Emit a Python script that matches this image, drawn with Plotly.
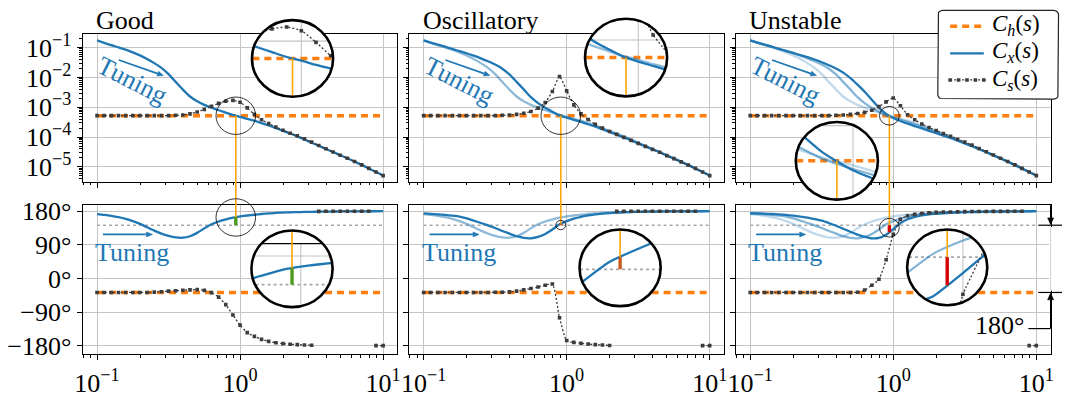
import numpy as np
import plotly.graph_objects as go

W, H = 1065, 398
FONT = "Liberation Serif, Times New Roman, DejaVu Serif, serif"
BLUE = "#1f77b4"
ORANGE = "#ff7f0e"
LINK = "#ffa500"
CS_GRAY = "#3c3c3c"
REF_GRAY = "#a8a8a8"
GRID = "#c4c4c4"

# ---------------------------------------------------------------- data
# frequency grid (log10 of rad/s), 20 samples per decade
log_freq = [round(-1 + 0.05 * k, 2) for k in range(41)]

ch_log10_mag = -3.284     # |C_h(s)| (constant), log10
ch_phase = -37.5          # arg C_h(s) (constant), degrees

good_cx_log10_mag = [-0.76, -0.84, -0.92, -0.99, -1.07, -1.16, -1.26, -1.38, -1.52, -1.68,
                     -1.89, -2.15, -2.41, -2.64, -2.80, -2.92, -3.01, -3.10, -3.18, -3.26,
                     -3.32, -3.39, -3.45, -3.53, -3.61, -3.70, -3.79, -3.88, -3.98, -4.08,
                     -4.19, -4.29, -4.40, -4.50, -4.61, -4.71, -4.82, -4.93, -5.05, -5.17, -5.29]
good_cs_log10_mag = [-3.28, -3.28, -3.28, -3.28, -3.28, -3.28, -3.28, -3.28, -3.28, -3.28,
                     -3.28, -3.27, -3.26, -3.22, -3.16, -3.07, -2.97, -2.87, -2.80, -2.77,
                     -2.83, -3.02, -3.24, -3.42, -3.55, -3.66, -3.77, -3.87, -3.96, -4.06,
                     -4.17, -4.28, -4.39, -4.50, -4.61, -4.71, -4.82, -4.93, -5.05, -5.17, -5.29]
good_cx_phase = [172, 170, 167.5, 164, 159.5, 153.5, 146, 137, 128, 120,
                 114, 110, 109, 113, 122, 134, 145, 152.5, 158, 163,
                 166, 168.5, 170.5, 172.5, 174, 175.5, 176.2, 177, 177.5, 178,
                 178.3, 178.6, 178.9, 179.1, 179.3, 179.5, 179.6, 179.7, 179.8, 179.9, 179.95]
good_cs_phase = [-37.5, -37.5, -37.5, -37.5, -37.5, -37.5, -37.5, -37.5, -36.5, -35.5,
                 -34, -33, -31.5, -30.5, -30, -32, -38, -50, -70, -98,
                 -125, -145, -155, -163, -168.5, -172, -174.5, -176, -177.2, -178,
                 -178.8, 179.6, 179.7, 179.7, 179.8, 179.8, 179.8, 179.9, 179.9, -179.9, -179.9]

osc_cx_log10_mag = [-0.76, -0.83, -0.90, -0.97, -1.04, -1.12, -1.19, -1.27, -1.36, -1.46,
                    -1.57, -1.71, -1.90, -2.15, -2.40, -2.66, -2.86, -3.02, -3.15, -3.27,
                    -3.35, -3.42, -3.49, -3.57, -3.65, -3.74, -3.83, -3.92, -4.01, -4.11,
                    -4.21, -4.31, -4.41, -4.51, -4.62, -4.72, -4.83, -4.94, -5.05, -5.17, -5.29]
osc_cs_log10_mag = [-3.28, -3.28, -3.28, -3.28, -3.28, -3.28, -3.28, -3.28, -3.28, -3.28,
                    -3.28, -3.27, -3.26, -3.24, -3.20, -3.14, -3.03, -2.84, -2.47, -1.97,
                    -2.45, -2.92, -3.22, -3.41, -3.57, -3.70, -3.81, -3.91, -4.01, -4.11,
                    -4.21, -4.31, -4.41, -4.51, -4.62, -4.72, -4.83, -4.94, -5.05, -5.17, -5.29]
osc_cx_phase = [174, 173, 171.5, 170, 168, 165.5, 161, 155, 148.5, 142,
                135, 127, 120, 113, 108.5, 107.5, 111, 119, 131, 145,
                153.5, 160, 165, 168.5, 171.5, 173.5, 175, 176, 177, 177.7,
                178.2, 178.6, 179, 179.2, 179.4, 179.5, 179.6, 179.7, 179.8, 179.9, 179.95]
osc_cs_phase = [-37.5, -37.5, -37.5, -37.5, -37.5, -37.5, -37.5, -37.5, -37.5, -37.5,
                -37, -37, -36, -34, -30.5, -27, -23, -18, -15, -105,
                -166, -171, -173.5, -175.5, -177, -178.2, -179.3, 179.6, 179.7, 179.7,
                179.7, 179.8, 179.8, 179.8, 179.8, 179.9, 179.9, 179.9, 179.9, -179.9, -179.9]

unst_cx_log10_mag = [-0.76, -0.83, -0.90, -0.97, -1.04, -1.11, -1.18, -1.25, -1.32, -1.40,
                     -1.49, -1.59, -1.70, -1.84, -2.02, -2.24, -2.48, -2.75, -3.02, -3.22,
                     -3.36, -3.46, -3.55, -3.63, -3.71, -3.79, -3.87, -3.95, -4.03, -4.12,
                     -4.21, -4.30, -4.40, -4.50, -4.61, -4.71, -4.82, -4.93, -5.05, -5.17, -5.29]
unst_cs_log10_mag = [-3.28, -3.28, -3.28, -3.28, -3.28, -3.28, -3.28, -3.28, -3.28, -3.28,
                     -3.28, -3.28, -3.27, -3.26, -3.24, -3.21, -3.17, -3.10, -2.98, -2.82,
                     -2.69, -2.95, -3.25, -3.42, -3.56, -3.68, -3.78, -3.88, -3.97, -4.07,
                     -4.17, -4.27, -4.38, -4.49, -4.60, -4.71, -4.82, -4.93, -5.05, -5.17, -5.29]
unst_cx_phase = [174.5, 174, 173.5, 172.5, 171.5, 170, 168, 165.5, 162.5, 159,
                 155, 148.5, 141, 133, 125, 117.5, 111.5, 107.5, 108.5, 117,
                 132, 148, 158.5, 165, 169, 171.5, 173, 174.5, 175.5, 176.3,
                 177, 177.6, 178, 178.4, 178.8, 179.1, 179.3, 179.5, 179.7, 179.85, 179.95]
unst_cs_phase = [-37.5, -37.5, -37.5, -37.5, -37.5, -37.5, -37.5, -37.5, -37.5, -37.5,
                 -37.5, -37.5, -37.5, -37.5, -37.5, -37, -31, -18, -2, 50,
                 118, 158, 168, 171.5, 173.8, 175.5, 176.8, 177.5, 178, 178.4,
                 178.8, 179, 179.2, 179.3, 179.4, 179.5, 179.6, 179.7, 179.8, -179.9, -179.9]

titles = ["Good", "Oscillatory", "Unstable"]
margin_colors = ["#4d9a1f", "#c9581c", "#d40000"]
x_tick_vals = [0.1, 1, 10]
x_tick_text = ["10<sup>−1</sup>", "10<sup>0</sup>", "10<sup>1</sup>"]
mag_tick_exp = [-5, -4, -3, -2, -1]
mag_tick_text = ["10<sup>−5</sup>", "10<sup>−4</sup>", "10<sup>−3</sup>", "10<sup>−2</sup>", "10<sup>−1</sup>"]
ph_tick_vals = [-180, -90, 0, 90, 180]
ph_tick_text = ["−180°", "−90°", "0°", "90°", "180°"]
legend_labels = ["<i>C</i><sub><i>h</i></sub>(<i>s</i>)",
                 "<i>C</i><sub><i>x</i></sub>(<i>s</i>)",
                 "<i>C</i><sub><i>s</i></sub>(<i>s</i>)"]

# ---------------------------------------------------------------- layout constants
PANEL_X = [(75.5, 393.5), (405.5, 723.5), (735.5, 1053.5)]
ROW_MAG = (28.0, 186.0)
ROW_PH = (211.0, 370.5)
XR = [-1.1, 1.1]
YR_MAG = [-5.50, -0.55]
YR_PH = [-203.0, 196.0]
PXU = (PANEL_X[0][1] - PANEL_X[0][0]) / (XR[1] - XR[0])
PXV_MAG = (ROW_MAG[1] - ROW_MAG[0]) / (YR_MAG[1] - YR_MAG[0])
PXV_PH = (ROW_PH[1] - ROW_PH[0]) / (YR_PH[1] - YR_PH[0])

# inset: (panel, is_mag, centre value (None -> C_h level), small radius, big cx, big cy, big R)
INSETS = [
    (0, True, None, 20, 287.5, 54.0, 41.0),
    (1, True, None, 20, 624.5, 53.0, 41.5),
    (2, True, None, 10, 837.5, 163.5, 41.5),
    (0, False, 163.25, 20, 287.0, 279.0, 41.0),
    (1, False, 143.0, 5, 618.5, 278.0, 41.0),
    (2, False, 135.75, 10, 949.0, 277.5, 40.5),
]


def ref(n, xy):
    return xy if n == 1 else f"{xy}{n}"


def akey(n, xy):
    return f"{xy}axis" if n == 1 else f"{xy}axis{n}"


def px_of_u(p, u):
    return PANEL_X[p][0] + (u - XR[0]) * PXU


def py_of_v(is_mag, v):
    if is_mag:
        return ROW_MAG[1] - (v - YR_MAG[0]) * PXV_MAG
    return ROW_PH[1] - (v - YR_PH[0]) * PXV_PH


fig = go.Figure()
shapes, annotations = [], []
layout = dict(width=W, height=H, margin=dict(l=0, r=0, t=0, b=0, pad=0),
              paper_bgcolor="white", plot_bgcolor="rgba(0,0,0,0)", showlegend=False,
              font=dict(family=FONT, size=26, color="black"))


def add_xy(n, x, y, **kw):
    fig.add_trace(go.Scatter(x=x, y=y, xaxis=ref(n, "x"), yaxis=ref(n, "y"),
                             hoverinfo="skip", showlegend=False, **kw))


def to_xy(u, v, is_mag):
    x = [None if a is None else 10.0 ** a for a in u]
    y = [None if b is None else (10.0 ** b if is_mag else b) for b in v]
    return x, y


def split_wraps(u, v):
    us, vs = [u[0]], [v[0]]
    for i in range(1, len(v)):
        if abs(v[i] - v[i - 1]) > 180:
            us.append(None)
            vs.append(None)
        us.append(u[i])
        vs.append(v[i])
    return us, vs


def clip_circle(a, b, rad=0.99):
    oa, ob = [], []
    open_ = False
    for i in range(len(a) - 1):
        a0, b0, a1, b1 = a[i], b[i], a[i + 1], b[i + 1]
        if a0 is None or b0 is None or a1 is None or b1 is None:
            open_ = False
            continue
        da, db = a1 - a0, b1 - b0
        A = da * da + db * db
        if A == 0:
            continue
        B = 2 * (a0 * da + b0 * db)
        C = a0 * a0 + b0 * b0 - rad * rad
        disc = B * B - 4 * A * C
        if disc <= 0:
            open_ = False
            continue
        s = disc ** 0.5
        lo = max((-B - s) / (2 * A), 0.0)
        hi = min((-B + s) / (2 * A), 1.0)
        if lo >= hi:
            open_ = False
            continue
        if not (open_ and lo == 0.0):
            if oa:
                oa.append(None)
                ob.append(None)
            oa.append(a0 + lo * da)
            ob.append(b0 + lo * db)
        oa.append(a0 + hi * da)
        ob.append(b0 + hi * db)
        open_ = hi == 1.0
    return oa, ob


CURVE = dict(shape="spline", smoothing=0.6)
MARK = dict(symbol="square", size=3.6, color=CS_GRAY, line=dict(width=0))
ST_CH = dict(color=ORANGE, width=3.6, dash="7px,5px")
ST_CS = dict(color=CS_GRAY, width=1.3, dash="2px,2px", **CURVE)
ST_LINK = dict(color=LINK, width=1.6)


def st_cx(alpha):
    return dict(color=f"rgba(31,119,180,{alpha})", width=2.3, **CURVE)


panels = [
    dict(cx_mag=good_cx_log10_mag, cs_mag=good_cs_log10_mag, cx_ph=good_cx_phase,
         cs_ph=good_cs_phase, prev=[]),
    dict(cx_mag=osc_cx_log10_mag, cs_mag=osc_cs_log10_mag, cx_ph=osc_cx_phase,
         cs_ph=osc_cs_phase, prev=[(good_cx_log10_mag, good_cx_phase, 0.5)]),
    dict(cx_mag=unst_cx_log10_mag, cs_mag=unst_cs_log10_mag, cx_ph=unst_cx_phase,
         cs_ph=unst_cs_phase, prev=[(good_cx_log10_mag, good_cx_phase, 0.28),
                                    (osc_cx_log10_mag, osc_cx_phase, 0.55)]),
]

ref_phase = ch_phase + 180.0
ch_mag_list = [ch_log10_mag] * len(log_freq)
ch_ph_list = [ch_phase] * len(log_freq)


def arrow(x0, y0, x1, y1, color, width, head=6.0, half=2.6):
    """Straight arrow (pixel coords) drawn as a line plus a filled head."""
    vx, vy = x1 - x0, y1 - y0
    L = (vx * vx + vy * vy) ** 0.5
    ux, uy = vx / L, vy / L
    bx, by = x1 - ux * head, y1 - uy * head
    shapes.append(dict(type="line", xref="paper", yref="paper", x0=x0 / W, x1=bx / W,
                       y0=1 - y0 / H, y1=1 - by / H, line=dict(color=color, width=width),
                       layer="above"))
    pts = [(x1, y1), (bx - uy * half, by + ux * half), (bx + uy * half, by - ux * half)]
    path = "M " + " L ".join(f"{px / W:.6f},{1 - py / H:.6f}" for px, py in pts) + " Z"
    shapes.append(dict(type="path", xref="paper", yref="paper", path=path, fillcolor=color,
                       line=dict(color=color, width=0.6), layer="above"))


for p, P in enumerate(panels):
    d = np.array(P["cx_mag"]) - ch_log10_mag
    i = int(np.where((d[:-1] > 0) & (d[1:] <= 0))[0][0])
    t = d[i] / (d[i] - d[i + 1])
    lwc = log_freq[i] + t * (log_freq[i + 1] - log_freq[i])
    ph_wc = float(np.interp(lwc, log_freq, P["cx_ph"]))
    P["lwc"], P["ph_wc"] = lwc, ph_wc

    mag_items = [dict(u=log_freq, v=ch_mag_list, line=ST_CH)]
    for (pm, pp, al) in P["prev"]:
        mag_items.append(dict(u=log_freq, v=pm, line=st_cx(al)))
    mag_items.append(dict(u=log_freq, v=P["cx_mag"], line=st_cx(1)))
    mag_items.append(dict(u=log_freq, v=P["cs_mag"], line=ST_CS, markers=True))
    mag_items.append(dict(u=[lwc, lwc], v=[ch_log10_mag, YR_MAG[0] - 3], line=ST_LINK))

    ph_items = [dict(u=[-1, 1], v=[ref_phase, ref_phase], line=dict(color=REF_GRAY, width=1.6, dash="dot"))]
    ph_items.append(dict(u=log_freq, v=ch_ph_list, line=ST_CH))
    for (pm, pp, al) in P["prev"]:
        ph_items.append(dict(u=log_freq, v=pp, line=st_cx(al), wrap=True))
    ph_items.append(dict(u=log_freq, v=P["cx_ph"], line=st_cx(1), wrap=True))
    ph_items.append(dict(u=log_freq, v=P["cs_ph"], line=ST_CS, markers=True, wrap=True))
    ph_items.append(dict(u=[lwc, lwc], v=[YR_PH[1] + 200, ph_wc], line=ST_LINK))
    ph_items.append(dict(u=[lwc, lwc], v=[ph_wc, ref_phase], line=dict(color=margin_colors[p], width=3.4)))
    P["mag_items"], P["ph_items"] = mag_items, ph_items

    # ---- axes
    common = dict(showline=True, mirror=True, linecolor="black", linewidth=1.2, ticks="outside",
                  ticklen=5, tickwidth=1.1, tickcolor="black", showgrid=True, gridcolor=GRID,
                  gridwidth=1.1, zeroline=False, fixedrange=True,
                  tickfont=dict(family=FONT, size=26, color="black"))
    x_minor = [m * 10.0 ** e for e in (-2, -1, 0, 1) for m in range(2, 10)
               if XR[0] <= np.log10(m * 10.0 ** e) <= XR[1]]
    y_minor = [m * 10.0 ** e for e in range(-7, 0) for m in range(2, 10)
               if YR_MAG[0] <= np.log10(m * 10.0 ** e) <= YR_MAG[1]]
    nt, nb = p + 1, p + 4
    xd = [PANEL_X[p][0] / W, PANEL_X[p][1] / W]
    for n, row in ((nt, ROW_MAG), (nb, ROW_PH)):
        layout[akey(n, "x")] = dict(domain=xd, type="log", range=XR, anchor=ref(n, "y"),
                                    tickmode="array", tickvals=x_tick_vals, ticktext=x_tick_text,
                                    showticklabels=(n == nb),
                                    minor=dict(tickvals=x_minor, ticks="outside", ticklen=2.5,
                                               tickwidth=0.9, tickcolor="black", showgrid=False),
                                    **common)
    layout[akey(nt, "y")] = dict(domain=[1 - ROW_MAG[1] / H, 1 - ROW_MAG[0] / H], type="log",
                                 range=YR_MAG, anchor=ref(nt, "x"), tickmode="array",
                                 tickvals=[10.0 ** e for e in mag_tick_exp], ticktext=mag_tick_text,
                                 showticklabels=(p == 0),
                                 minor=dict(tickvals=y_minor, ticks="outside", ticklen=2.5,
                                            tickwidth=0.9, tickcolor="black", showgrid=False),
                                 **common)
    layout[akey(nb, "y")] = dict(domain=[1 - ROW_PH[1] / H, 1 - ROW_PH[0] / H], type="linear",
                                 range=YR_PH, anchor=ref(nb, "x"), tickmode="array",
                                 tickvals=ph_tick_vals, ticktext=ph_tick_text,
                                 showticklabels=(p == 0), **common)

    # ---- main traces
    for n, items, is_mag in ((nt, mag_items, True), (nb, ph_items, False)):
        for it in items:
            u, v = it["u"], it["v"]
            if it.get("wrap"):
                u, v = split_wraps(u, v)
            x, y = to_xy(u, v, is_mag)
            if it.get("markers"):
                add_xy(n, x, y, mode="lines+markers", line=it["line"], marker=MARK)
            else:
                add_xy(n, x, y, mode="lines", line=it["line"])

    # link through the gap between rows
    xl = px_of_u(p, lwc) / W
    shapes.append(dict(type="line", xref="paper", yref="paper", x0=xl, x1=xl,
                       y0=1 - ROW_MAG[1] / H, y1=1 - ROW_PH[0] / H, line=ST_LINK, layer="above"))

    # titles & Tuning labels
    x01 = px_of_u(p, -1)
    dx = x01 - 90
    annotations.append(dict(text=titles[p], x=(x01 - 3) / W, y=1 - 13.5 / H, xref="paper",
                            yref="paper", xanchor="left", yanchor="middle", showarrow=False,
                            font=dict(family=FONT, size=26, color="black")))
    annotations.append(dict(text="Tuning", x=(125.5 + dx) / W, y=1 - 78 / H, xref="paper",
                            yref="paper", xanchor="center", yanchor="middle", textangle=27,
                            showarrow=False, font=dict(family=FONT, size=26, color=BLUE)))
    arrow(112 + dx, 55.7, 157 + dx, 72.3, BLUE, 1.7)
    annotations.append(dict(text="Tuning", x=(125.5 + dx) / W, y=1 - 261.5 / H, xref="paper",
                            yref="paper", xanchor="center", yanchor="middle", showarrow=False,
                            font=dict(family=FONT, size=26, color=BLUE)))
    arrow(96 + dx, 242.3, 146 + dx, 242.3, BLUE, 1.7)

# ---------------------------------------------------------------- insets
for k, (p, is_mag, vcen, r, Xc, Yc, R) in enumerate(INSETS):
    n = 7 + k
    P = panels[p]
    uc = P["lwc"]
    vc = ch_log10_mag if is_mag else vcen
    du = r / PXU
    dv = r / (PXV_MAG if is_mag else PXV_PH)
    layout[akey(n, "x")] = dict(domain=[(Xc - R) / W, (Xc + R) / W], type="log",
                                range=[uc - du, uc + du], anchor=ref(n, "y"), visible=False,
                                fixedrange=True)
    layout[akey(n, "y")] = dict(domain=[1 - (Yc + R) / H, 1 - (Yc - R) / H],
                                type="log" if is_mag else "linear", range=[vc - dv, vc + dv],
                                anchor=ref(n, "x"), visible=False, fixedrange=True)
    # white disk
    tt = np.linspace(0, 2 * np.pi, 181)
    dx_, dy_ = to_xy(list(uc + du * np.cos(tt)), list(vc + dv * np.sin(tt)), is_mag)
    add_xy(n, dx_, dy_, mode="lines", fill="toself", fillcolor="white", line=dict(width=0))

    def clipped(u, v):
        a = [None if q is None else (q - uc) / du for q in u]
        b = [None if q is None else (q - vc) / dv for q in v]
        ca, cb = clip_circle(a, b)
        uu = [None if q is None else uc + q * du for q in ca]
        vv = [None if q is None else vc + q * dv for q in cb]
        return to_xy(uu, vv, is_mag)

    yr = YR_MAG if is_mag else YR_PH
    yt = mag_tick_exp if is_mag else ph_tick_vals
    gu, gv = [], []
    for g in (-1, 0, 1):
        gu += [g, g, None]
        gv += [yr[0], yr[1], None]
    for g in yt:
        gu += [XR[0], XR[1], None]
        gv += [g, g, None]
    x, y = clipped(gu, gv)
    if x:
        add_xy(n, x, y, mode="lines", line=dict(color=GRID, width=1.1))
    su = [XR[0], XR[1], None, XR[0], XR[1], None, XR[0], XR[0], None, XR[1], XR[1]]
    sv = [yr[0], yr[0], None, yr[1], yr[1], None, yr[0], yr[1], None, yr[0], yr[1]]
    x, y = clipped(su, sv)
    if x:
        add_xy(n, x, y, mode="lines", line=dict(color="black", width=1.2))

    items = P["mag_items"] if is_mag else P["ph_items"]
    for it in items:
        u, v = it["u"], it["v"]
        if it.get("wrap"):
            u, v = split_wraps(u, v)
        x, y = clipped(u, v)
        if x:
            add_xy(n, x, y, mode="lines", line=it["line"])
        if it.get("markers"):
            mu = [q for q, w in zip(u, v) if q is not None and
                  ((q - uc) / du) ** 2 + ((w - vc) / dv) ** 2 < 0.96]
            mv = [w for q, w in zip(u, v) if q is not None and
                  ((q - uc) / du) ** 2 + ((w - vc) / dv) ** 2 < 0.96]
            if mu:
                mx, my = to_xy(mu, mv, is_mag)
                add_xy(n, mx, my, mode="markers", marker=MARK)

    # outlines: small circle in the main panel, big circle round the inset
    cx = px_of_u(p, uc)
    cy = py_of_v(is_mag, vc)
    shapes.append(dict(type="circle", xref="paper", yref="paper", x0=(cx - r) / W, x1=(cx + r) / W,
                       y0=1 - (cy + r) / H, y1=1 - (cy - r) / H,
                       line=dict(color="black", width=0.8), layer="above"))
    shapes.append(dict(type="circle", xref="paper", yref="paper", x0=(Xc - R) / W, x1=(Xc + R) / W,
                       y0=1 - (Yc + R) / H, y1=1 - (Yc - R) / H,
                       line=dict(color="black", width=2.6), layer="above"))

# ---------------------------------------------------------------- 180° dimension
y_ref = py_of_v(False, ref_phase)
y_ch = py_of_v(False, ch_phase)
X_SP = PANEL_X[2][1]


def pl(x0, y0, x1, y1, color="black", width=1.2):
    shapes.append(dict(type="line", xref="paper", yref="paper", x0=x0 / W, x1=x1 / W,
                       y0=1 - y0 / H, y1=1 - y1 / H, line=dict(color=color, width=width),
                       layer="above"))


pl(X_SP, y_ref + 2, X_SP, y_ch - 2, color="white", width=3)
pl(X_SP, y_ref + 2, X_SP, y_ch - 2, color="#d0d0d0", width=1)
pl(1041, y_ref, 1065, y_ref)
pl(1041, y_ch, 1065, y_ch)
pl(1031, 343, X_SP, 343)
arrow(X_SP, ROW_PH[0], X_SP, y_ref - 0.8, "black", 1.3, head=7, half=3)
arrow(X_SP, 343, X_SP, y_ch + 0.8, "black", 1.3, head=7, half=3)
annotations.append(dict(text="180°", x=1029 / W, y=1 - 340 / H, xref="paper", yref="paper",
                        xanchor="right", yanchor="middle", showarrow=False,
                        font=dict(family=FONT, size=26, color="black")))

# ---------------------------------------------------------------- legend (own small axis)
layout["xaxis13"] = dict(domain=[936 / W, 1065 / W], range=[936, 1065], visible=False,
                         anchor="y13", fixedrange=True)
layout["yaxis13"] = dict(domain=[1 - 100 / H, 1.0], range=[100, 0], visible=False,
                         anchor="x13", fixedrange=True)
bx0, bx1, by0, by1, rr = 939.5, 1061.5, 2.5, 97.5, 5.0
bu, bv = [], []
for (ccx, ccy, a0) in ((bx1 - rr, by0 + rr, -90), (bx1 - rr, by1 - rr, 0),
                       (bx0 + rr, by1 - rr, 90), (bx0 + rr, by0 + rr, 180)):
    for aa in np.linspace(a0, a0 + 90, 7):
        bu.append(ccx + rr * np.cos(np.radians(aa)))
        bv.append(ccy + rr * np.sin(np.radians(aa)))
bu.append(bu[0])
bv.append(bv[0])
add_xy(13, bu, bv, mode="lines", fill="toself", fillcolor="white",
       line=dict(color="#222222", width=1.2))
add_xy(13, [952, 986], [19.5, 19.5], mode="lines", line=ST_CH)
add_xy(13, [952, 986], [48.5, 48.5], mode="lines", line=dict(color=BLUE, width=2.3))
add_xy(13, [952, 986], [77, 77], mode="lines", line=dict(color=CS_GRAY, width=1.3, dash="2px,2px"))
add_xy(13, [952, 960.5, 969, 977.5, 986], [77] * 5, mode="markers", marker=MARK)
for j, lab in enumerate(legend_labels):
    annotations.append(dict(text=lab, x=993 / W, y=1 - (18.5 + 29 * j) / H, xref="paper",
                            yref="paper", xanchor="left", yanchor="middle", showarrow=False,
                            borderpad=0, font=dict(family=FONT, size=23, color="black")))

layout["shapes"] = shapes
layout["annotations"] = annotations
fig.update_layout(**layout)
fig.write_html("out.html", config={"displayModeBar": False},
               post_script="document.body.style.margin='0px';document.body.style.padding='0px';")
